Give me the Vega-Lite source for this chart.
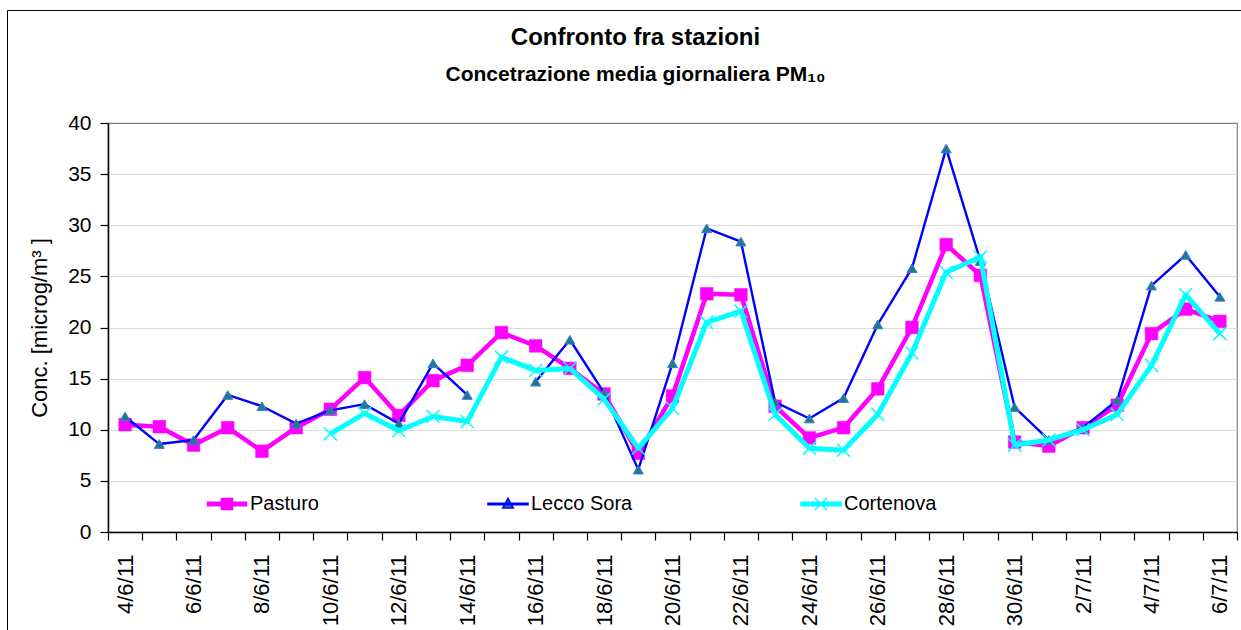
{
  "$schema": "https://vega.github.io/schema/vega-lite/v6.json",
  "autosize": "none",
  "width": 1129,
  "height": 409,
  "padding": {"left": 108, "top": 123, "right": 4, "bottom": 98},
  "background": "white",
  "title": {
    "text": "Confronto fra stazioni",
    "subtitle": "Concetrazione media giornaliera PM₁₀",
    "anchor": "middle",
    "frame": "group",
    "dx": -37,
    "offset": -75,
    "font": "Liberation Sans",
    "fontSize": 24,
    "fontWeight": "bold",
    "color": "black",
    "subtitleFont": "Liberation Sans",
    "subtitleFontSize": 21,
    "subtitleFontWeight": "bold",
    "subtitleColor": "black",
    "subtitlePadding": 14
  },
  "data": {
    "values": [
      {"d": "4/6/11", "s": "Pasturo", "v": 10.5}, {"d": "4/6/11", "s": "Lecco Sora", "v": 11.3},
      {"d": "5/6/11", "s": "Pasturo", "v": 10.3}, {"d": "5/6/11", "s": "Lecco Sora", "v": 8.6},
      {"d": "6/6/11", "s": "Pasturo", "v": 8.5}, {"d": "6/6/11", "s": "Lecco Sora", "v": 9.0},
      {"d": "7/6/11", "s": "Pasturo", "v": 10.2}, {"d": "7/6/11", "s": "Lecco Sora", "v": 13.4},
      {"d": "8/6/11", "s": "Pasturo", "v": 7.9}, {"d": "8/6/11", "s": "Lecco Sora", "v": 12.3},
      {"d": "9/6/11", "s": "Pasturo", "v": 10.2}, {"d": "9/6/11", "s": "Lecco Sora", "v": 10.6},
      {"d": "10/6/11", "s": "Pasturo", "v": 12.0}, {"d": "10/6/11", "s": "Lecco Sora", "v": 11.9}, {"d": "10/6/11", "s": "Cortenova", "v": 9.6},
      {"d": "11/6/11", "s": "Pasturo", "v": 15.1}, {"d": "11/6/11", "s": "Lecco Sora", "v": 12.5}, {"d": "11/6/11", "s": "Cortenova", "v": 11.6},
      {"d": "12/6/11", "s": "Pasturo", "v": 11.4}, {"d": "12/6/11", "s": "Lecco Sora", "v": 10.6}, {"d": "12/6/11", "s": "Cortenova", "v": 9.9},
      {"d": "13/6/11", "s": "Pasturo", "v": 14.8}, {"d": "13/6/11", "s": "Lecco Sora", "v": 16.5}, {"d": "13/6/11", "s": "Cortenova", "v": 11.3},
      {"d": "14/6/11", "s": "Pasturo", "v": 16.3}, {"d": "14/6/11", "s": "Lecco Sora", "v": 13.4}, {"d": "14/6/11", "s": "Cortenova", "v": 10.8},
      {"d": "15/6/11", "s": "Pasturo", "v": 19.5}, {"d": "15/6/11", "s": "Lecco Sora", "v": null}, {"d": "15/6/11", "s": "Cortenova", "v": 17.1},
      {"d": "16/6/11", "s": "Pasturo", "v": 18.2}, {"d": "16/6/11", "s": "Lecco Sora", "v": 14.7}, {"d": "16/6/11", "s": "Cortenova", "v": 15.8},
      {"d": "17/6/11", "s": "Pasturo", "v": 16.0}, {"d": "17/6/11", "s": "Lecco Sora", "v": 18.8}, {"d": "17/6/11", "s": "Cortenova", "v": 16.0},
      {"d": "18/6/11", "s": "Pasturo", "v": 13.5}, {"d": "18/6/11", "s": "Lecco Sora", "v": 13.6}, {"d": "18/6/11", "s": "Cortenova", "v": 13.0},
      {"d": "19/6/11", "s": "Pasturo", "v": 7.7}, {"d": "19/6/11", "s": "Lecco Sora", "v": 6.1}, {"d": "19/6/11", "s": "Cortenova", "v": 8.2},
      {"d": "20/6/11", "s": "Pasturo", "v": 13.3}, {"d": "20/6/11", "s": "Lecco Sora", "v": 16.5}, {"d": "20/6/11", "s": "Cortenova", "v": 12.1},
      {"d": "21/6/11", "s": "Pasturo", "v": 23.3}, {"d": "21/6/11", "s": "Lecco Sora", "v": 29.7}, {"d": "21/6/11", "s": "Cortenova", "v": 20.5},
      {"d": "22/6/11", "s": "Pasturo", "v": 23.2}, {"d": "22/6/11", "s": "Lecco Sora", "v": 28.4}, {"d": "22/6/11", "s": "Cortenova", "v": 21.6},
      {"d": "23/6/11", "s": "Pasturo", "v": 12.3}, {"d": "23/6/11", "s": "Lecco Sora", "v": 12.7}, {"d": "23/6/11", "s": "Cortenova", "v": 11.5},
      {"d": "24/6/11", "s": "Pasturo", "v": 9.2}, {"d": "24/6/11", "s": "Lecco Sora", "v": 11.1}, {"d": "24/6/11", "s": "Cortenova", "v": 8.2},
      {"d": "25/6/11", "s": "Pasturo", "v": 10.2}, {"d": "25/6/11", "s": "Lecco Sora", "v": 13.1}, {"d": "25/6/11", "s": "Cortenova", "v": 8.0},
      {"d": "26/6/11", "s": "Pasturo", "v": 14.0}, {"d": "26/6/11", "s": "Lecco Sora", "v": 20.3}, {"d": "26/6/11", "s": "Cortenova", "v": 11.5},
      {"d": "27/6/11", "s": "Pasturo", "v": 20.0}, {"d": "27/6/11", "s": "Lecco Sora", "v": 25.8}, {"d": "27/6/11", "s": "Cortenova", "v": 17.5},
      {"d": "28/6/11", "s": "Pasturo", "v": 28.1}, {"d": "28/6/11", "s": "Lecco Sora", "v": 37.5}, {"d": "28/6/11", "s": "Cortenova", "v": 25.4},
      {"d": "29/6/11", "s": "Pasturo", "v": 25.1}, {"d": "29/6/11", "s": "Lecco Sora", "v": 26.5}, {"d": "29/6/11", "s": "Cortenova", "v": 26.9},
      {"d": "30/6/11", "s": "Pasturo", "v": 8.8}, {"d": "30/6/11", "s": "Lecco Sora", "v": 12.2}, {"d": "30/6/11", "s": "Cortenova", "v": 8.5},
      {"d": "1/7/11", "s": "Pasturo", "v": 8.4}, {"d": "1/7/11", "s": "Lecco Sora", "v": 9.0}, {"d": "1/7/11", "s": "Cortenova", "v": 9.0},
      {"d": "2/7/11", "s": "Pasturo", "v": 10.2}, {"d": "2/7/11", "s": "Lecco Sora", "v": 10.2}, {"d": "2/7/11", "s": "Cortenova", "v": 10.0},
      {"d": "3/7/11", "s": "Pasturo", "v": 12.4}, {"d": "3/7/11", "s": "Lecco Sora", "v": 12.9}, {"d": "3/7/11", "s": "Cortenova", "v": 11.5},
      {"d": "4/7/11", "s": "Pasturo", "v": 19.4}, {"d": "4/7/11", "s": "Lecco Sora", "v": 24.1}, {"d": "4/7/11", "s": "Cortenova", "v": 16.3},
      {"d": "5/7/11", "s": "Pasturo", "v": 21.8}, {"d": "5/7/11", "s": "Lecco Sora", "v": 27.1}, {"d": "5/7/11", "s": "Cortenova", "v": 23.2},
      {"d": "6/7/11", "s": "Pasturo", "v": 20.6}, {"d": "6/7/11", "s": "Lecco Sora", "v": 23.0}, {"d": "6/7/11", "s": "Cortenova", "v": 19.4}
    ]
  },
  "encoding": {
    "x": {
      "field": "d",
      "type": "ordinal",
      "sort": null,
      "scale": {
        "type": "band",
        "paddingInner": 0,
        "paddingOuter": 0,
        "domain": ["4/6/11","5/6/11","6/6/11","7/6/11","8/6/11","9/6/11","10/6/11","11/6/11","12/6/11","13/6/11","14/6/11","15/6/11","16/6/11","17/6/11","18/6/11","19/6/11","20/6/11","21/6/11","22/6/11","23/6/11","24/6/11","25/6/11","26/6/11","27/6/11","28/6/11","29/6/11","30/6/11","1/7/11","2/7/11","3/7/11","4/7/11","5/7/11","6/7/11"]
      },
      "axis": {
        "title": null,
        "labelAngle": 270,
        "labelAlign": "right",
        "labelBaseline": "middle",
        "labelFont": "Liberation Sans",
        "labelFontSize": 22,
        "labelColor": "black",
        "labelPadding": 14,
        "labelOverlap": false,
        "labelExpr": "parseInt(split(datum.label, '/')[0]) % 2 === 0 ? datum.label : ''",
        "tickBand": "extent",
        "tickSize": 8,
        "tickColor": "black",
        "tickWidth": 1.2,
        "domainColor": "black",
        "domainWidth": 1.5,
        "grid": false
      }
    },
    "y": {
      "field": "v",
      "type": "quantitative",
      "scale": {"domain": [0, 40], "nice": false, "zero": true},
      "axis": {
        "title": "Conc. [microg/m³ ]",
        "titleFont": "Liberation Sans",
        "titleFontSize": 22,
        "titleFontWeight": "normal",
        "titleColor": "black",
        "titlePadding": 16,
        "values": [0, 5, 10, 15, 20, 25, 30, 35, 40],
        "labelFont": "Liberation Sans",
        "labelFontSize": 21,
        "labelColor": "black",
        "labelPadding": 9,
        "tickSize": 8,
        "tickColor": "black",
        "tickWidth": 1.2,
        "domainColor": "black",
        "domainWidth": 1.5,
        "grid": true,
        "gridColor": {"condition": {"test": "datum.value === 40", "value": "#808080"}, "value": "#dcdcdc"},
        "gridWidth": 1.2
      }
    }
  },
  "layer": [
    {
      "transform": [{"filter": "datum.s === 'Pasturo'"}],
      "mark": {"type": "line", "strokeWidth": 4.5, "strokeJoin": "round", "invalid": "break-paths-show-domains"},
      "encoding": {
        "color": {
          "field": "s",
          "type": "nominal",
          "scale": {"domain": ["Pasturo", "Lecco Sora", "Cortenova"], "range": ["#FF00FF", "#0000FF", "#00FFFF"]},
          "legend": {
            "orient": "none",
            "legendX": 104,
            "legendY": 366,
            "direction": "horizontal",
            "title": null,
            "fillColor": "white",
            "padding": 5,
            "columnPadding": 165,
            "labelOffset": 13,
            "labelFont": "Liberation Sans",
            "labelFontSize": 20,
            "labelColor": "black",
            "labelLimit": 400,
            "symbolSize": 1600,
            "encode": {
              "symbols": {
                "update": {
                  "shape": {"signal": "datum.value === 'Pasturo' ? 'M-1,-0.11H1V0.11H-1ZM-0.3,-0.3H0.3V0.3H-0.3Z' : datum.value === 'Lecco Sora' ? 'M-1,-0.03H1V0.03H-1ZM0,-0.28L0.26,0.2H-0.26Z' : 'M-1,-0.09H1V0.09H-1ZM-0.3,-0.3L0.3,0.3M-0.3,0.3L0.3,-0.3'"},
                  "fill": {"signal": "datum.value === 'Pasturo' ? '#FF00FF' : datum.value === 'Lecco Sora' ? '#207A8A' : '#00FFFF'"},
                  "stroke": {"signal": "datum.value === 'Pasturo' ? '#FF00FF' : datum.value === 'Lecco Sora' ? '#0000FF' : '#00FFFF'"},
                  "strokeWidth": {"signal": "datum.value === 'Pasturo' ? 0.5 : datum.value === 'Lecco Sora' ? 1.6 : 1.5"},
                  "size": {"value": 1600},
                  "opacity": {"value": 1},
                  "fillOpacity": {"value": 1},
                  "strokeOpacity": {"value": 1}
                }
              }
            }
          }
        }
      }
    },
    {
      "transform": [{"filter": "datum.s === 'Pasturo'"}],
      "mark": {"type": "point", "filled": true, "size": 160, "fill": "#FF00FF", "stroke": "#FF00FF", "strokeWidth": 0.5, "opacity": 1},
      "encoding": {
        "shape": {
          "datum": "frame",
          "type": "nominal",
          "scale": {"range": ["square"]},
          "legend": {
            "orient": "none",
            "legendX": -101,
            "legendY": -113,
            "padding": 700,
            "title": null,
            "strokeColor": "black",
            "symbolOpacity": 0,
            "symbolSize": 1,
            "labelExpr": "''",
            "labelFontSize": 1,
            "encode": {"legend": {"update": {"strokeWidth": {"value": 1.5}}}}
          }
        }
      }
    },
    {
      "transform": [{"filter": "datum.s === 'Lecco Sora'"}],
      "mark": {"type": "line", "strokeWidth": 2.4, "strokeJoin": "round", "invalid": "break-paths-show-domains"},
      "encoding": {"color": {"field": "s", "type": "nominal"}}
    },
    {
      "transform": [{"filter": "datum.s === 'Lecco Sora' && isValid(datum.v)"}],
      "mark": {"type": "point", "shape": "triangle-up", "filled": true, "size": 100, "fill": "#207A8A", "stroke": "#3A7BD5", "strokeWidth": 1, "opacity": 1},
      "encoding": {}
    },
    {
      "transform": [{"filter": "datum.s === 'Cortenova'"}],
      "mark": {"type": "line", "strokeWidth": 5, "strokeJoin": "round", "invalid": "break-paths-show-domains"},
      "encoding": {"color": {"field": "s", "type": "nominal"}}
    },
    {
      "transform": [{"filter": "datum.s === 'Cortenova'"}],
      "mark": {"type": "point", "shape": "M-1,-1L1,1M-1,1L1,-1", "filled": false, "size": 170, "stroke": "#00FFFF", "strokeWidth": 1.5, "opacity": 1},
      "encoding": {}
    }
  ],
  "config": {
    "view": {"stroke": "#808080", "strokeWidth": 1.2},
    "font": "Liberation Sans"
  }
}
